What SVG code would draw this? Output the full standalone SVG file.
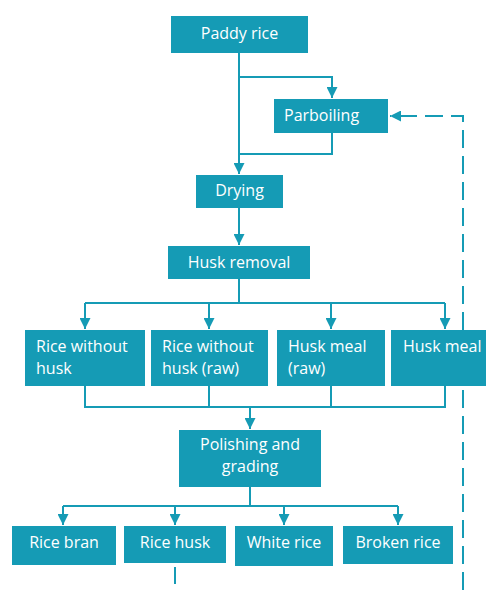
<svg xmlns="http://www.w3.org/2000/svg" width="486" height="590" viewBox="0 0 486 590">
  <style>
    .box { fill: #159bb5; }
    .lbl { font-family: "Open Sans", "Liberation Sans", sans-serif; font-size: 16px; fill: #ffffff; }
    .mid { text-anchor: middle; }
    .wire { fill: none; stroke: #159bb5; stroke-width: 2; }
    .dash { stroke-dasharray: 18 8; }
  </style>
  <defs>
    <marker id="arrow" viewBox="0 0 10 10" refX="10" refY="5" markerWidth="5.5" markerHeight="5.5" orient="auto" markerUnits="strokeWidth">
      <path d="M0,0 L10,5 L0,10 Z" fill="#159bb5"/>
    </marker>
  </defs>

  <g id="connectors">
    <!-- paddy rice to drying, with parboiling bypass -->
    <path class="wire" d="M239,53 V174" marker-end="url(#arrow)"/>
    <path class="wire" d="M239,77 H332 V98" marker-end="url(#arrow)"/>
    <path class="wire" d="M332,133 V154 H239"/>
    <!-- drying to husk removal -->
    <path class="wire" d="M239,208 V245" marker-end="url(#arrow)"/>
    <!-- husk removal fan-out -->
    <path class="wire" d="M239,279 V303"/>
    <path class="wire" d="M85,303 H445"/>
    <path class="wire" d="M85,303 V329" marker-end="url(#arrow)"/>
    <path class="wire" d="M209,303 V329" marker-end="url(#arrow)"/>
    <path class="wire" d="M331,303 V329" marker-end="url(#arrow)"/>
    <path class="wire" d="M445,303 V329" marker-end="url(#arrow)"/>
    <!-- fan-in to polishing -->
    <path class="wire" d="M85,386 V407 H445 V386"/>
    <path class="wire" d="M209,386 V407"/>
    <path class="wire" d="M331,386 V407"/>
    <path class="wire" d="M250,407 V429" marker-end="url(#arrow)"/>
    <!-- polishing fan-out -->
    <path class="wire" d="M250,487 V506"/>
    <path class="wire" d="M63,506 H398"/>
    <path class="wire" d="M63,506 V525" marker-end="url(#arrow)"/>
    <path class="wire" d="M175,506 V525" marker-end="url(#arrow)"/>
    <path class="wire" d="M284,506 V525" marker-end="url(#arrow)"/>
    <path class="wire" d="M398,506 V525" marker-end="url(#arrow)"/>
    <!-- rice husk outlet -->
    <path class="wire" d="M175,567 V584"/>
    <!-- dashed return to parboiling -->
    <path class="wire dash" d="M463,590 V116 H390" marker-end="url(#arrow)"/>
  </g>

  <g id="paddy-rice">
    <rect class="box" x="171" y="16" width="137" height="37"/>
    <text class="lbl mid" x="239.5" y="39">Paddy rice</text>
  </g>
  <g id="parboiling">
    <rect class="box" x="274" y="99" width="114" height="34"/>
    <text class="lbl" x="284" y="121">Parboiling</text>
  </g>
  <g id="drying">
    <rect class="box" x="196" y="175" width="87" height="33"/>
    <text class="lbl mid" x="239.5" y="196">Drying</text>
  </g>
  <g id="husk-removal">
    <rect class="box" x="168" y="246" width="142" height="33"/>
    <text class="lbl mid" x="239" y="268">Husk removal</text>
  </g>

  <g id="rice-without-husk">
    <rect class="box" x="25" y="330" width="120" height="56"/>
    <text class="lbl" x="36" y="352">Rice without</text>
    <text class="lbl" x="36" y="374">husk</text>
  </g>
  <g id="rice-without-husk-raw">
    <rect class="box" x="151" y="330" width="117" height="56"/>
    <text class="lbl" x="162" y="352">Rice without</text>
    <text class="lbl" x="162" y="374">husk (raw)</text>
  </g>
  <g id="husk-meal-raw">
    <rect class="box" x="277" y="330" width="108" height="56"/>
    <text class="lbl" x="288" y="352">Husk meal</text>
    <text class="lbl" x="288" y="374">(raw)</text>
  </g>
  <g id="husk-meal">
    <rect class="box" x="391" y="330" width="95" height="56"/>
    <text class="lbl" x="403" y="352">Husk meal</text>
  </g>

  <g id="polishing-grading">
    <rect class="box" x="179" y="430" width="142" height="57"/>
    <text class="lbl mid" x="250" y="450">Polishing and</text>
    <text class="lbl mid" x="250" y="472">grading</text>
  </g>

  <g id="rice-bran">
    <rect class="box" x="12" y="526" width="104" height="39"/>
    <text class="lbl mid" x="64" y="548">Rice bran</text>
  </g>
  <g id="rice-husk">
    <rect class="box" x="124" y="526" width="102" height="37"/>
    <text class="lbl mid" x="175" y="548">Rice husk</text>
  </g>
  <g id="white-rice">
    <rect class="box" x="235" y="526" width="98" height="40"/>
    <text class="lbl mid" x="284" y="548">White rice</text>
  </g>
  <g id="broken-rice">
    <rect class="box" x="343" y="526" width="110" height="38"/>
    <text class="lbl mid" x="398" y="548">Broken rice</text>
  </g>
</svg>
